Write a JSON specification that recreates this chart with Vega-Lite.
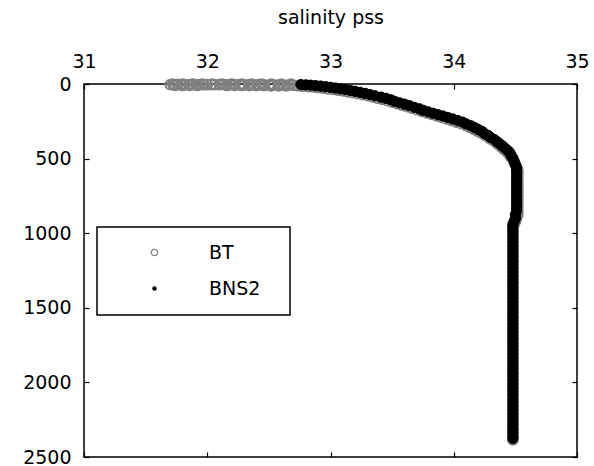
{
  "$schema": "https://vega.github.io/schema/vega-lite/v6.json",
  "width": 493,
  "height": 373,
  "autosize": {"type": "none"},
  "padding": {"left": 84, "top": 84, "right": 17, "bottom": 9},
  "background": "white",
  "config": {
    "view": {"stroke": "black", "strokeWidth": 1.5},
    "font": "DejaVu Sans",
    "axis": {
      "domain": false,
      "grid": false,
      "ticks": true,
      "tickColor": "black",
      "tickSize": -5,
      "tickWidth": 1.2,
      "labelFont": "DejaVu Sans",
      "labelFontSize": 19,
      "labelColor": "black",
      "labelPadding": 18,
      "labelFlush": false,
      "labelOverlap": false,
      "format": "d",
      "titleFont": "DejaVu Sans",
      "titleFontSize": 19,
      "titleFontWeight": "normal",
      "titleColor": "black"
    },
    "legend": {
      "orient": "none",
      "legendX": 13,
      "legendY": 143,
      "padding": 16,
      "strokeColor": "black",
      "strokeWidth": 1.5,
      "fillColor": "white",
      "symbolSize": 40,
      "symbolOffset": 32,
      "symbolStrokeWidth": 1.3,
      "labelOffset": 45,
      "rowPadding": 16,
      "labelFont": "DejaVu Sans",
      "labelFontSize": 19,
      "labelColor": "black",
      "titleOrient": "right",
      "titlePadding": 6,
      "titleOpacity": 0,
      "titleFont": "DejaVu Sans",
      "titleFontSize": 19
    }
  },
  "datasets": {
    "bt": [
      {"k":"BT","s":31.72,"d":0},{"k":"BT","s":31.80,"d":0},{"k":"BT","s":31.88,"d":0},{"k":"BT","s":31.96,"d":0},{"k":"BT","s":32.04,"d":0},{"k":"BT","s":32.12,"d":0},{"k":"BT","s":32.20,"d":0},{"k":"BT","s":32.28,"d":0},{"k":"BT","s":32.36,"d":0},{"k":"BT","s":32.44,"d":0},{"k":"BT","s":32.52,"d":0},{"k":"BT","s":32.60,"d":0},{"k":"BT","s":32.68,"d":0},
      {"k":"BT","s":31.70,"d":4},{"k":"BT","s":31.73,"d":5},{"k":"BT","s":31.76,"d":3},{"k":"BT","s":31.79,"d":5},{"k":"BT","s":31.82,"d":4},{"k":"BT","s":31.85,"d":6},{"k":"BT","s":31.88,"d":3},{"k":"BT","s":31.91,"d":5},{"k":"BT","s":31.94,"d":4},{"k":"BT","s":31.97,"d":5},{"k":"BT","s":32.00,"d":4},{"k":"BT","s":32.03,"d":5},{"k":"BT","s":32.06,"d":4},{"k":"BT","s":32.10,"d":5},{"k":"BT","s":32.14,"d":4},{"k":"BT","s":32.18,"d":5},{"k":"BT","s":32.22,"d":4},{"k":"BT","s":32.26,"d":5},{"k":"BT","s":32.30,"d":6},{"k":"BT","s":32.34,"d":5},{"k":"BT","s":32.38,"d":6},{"k":"BT","s":32.42,"d":5},{"k":"BT","s":32.46,"d":6},{"k":"BT","s":32.50,"d":7},{"k":"BT","s":32.54,"d":6},{"k":"BT","s":32.58,"d":7},{"k":"BT","s":32.62,"d":8},{"k":"BT","s":32.66,"d":7},{"k":"BT","s":32.70,"d":9},
      {"k":"BT","s":31.74,"d":9},{"k":"BT","s":31.80,"d":10},{"k":"BT","s":31.86,"d":9},{"k":"BT","s":31.92,"d":10},{"k":"BT","s":32.16,"d":10},{"k":"BT","s":32.22,"d":9},{"k":"BT","s":32.28,"d":10},{"k":"BT","s":32.34,"d":11},{"k":"BT","s":32.40,"d":10},{"k":"BT","s":32.46,"d":11},{"k":"BT","s":32.52,"d":12},{"k":"BT","s":32.58,"d":12},{"k":"BT","s":32.64,"d":13},
      {"k":"BT","s":32.74,"d":12},{"k":"BT","s":32.78,"d":15},{"k":"BT","s":32.82,"d":18},{"k":"BT","s":32.86,"d":20},{"k":"BT","s":32.90,"d":24},{"k":"BT","s":32.94,"d":28},{"k":"BT","s":32.98,"d":32},{"k":"BT","s":33.02,"d":36},{"k":"BT","s":33.06,"d":41},{"k":"BT","s":33.10,"d":46},{"k":"BT","s":33.14,"d":52},{"k":"BT","s":33.18,"d":58},{"k":"BT","s":33.22,"d":64},{"k":"BT","s":33.26,"d":71},{"k":"BT","s":33.30,"d":78},{"k":"BT","s":33.34,"d":86},{"k":"BT","s":33.38,"d":94},{"k":"BT","s":33.42,"d":103},{"k":"BT","s":33.46,"d":112},{"k":"BT","s":33.50,"d":121},{"k":"BT","s":33.54,"d":131},{"k":"BT","s":33.58,"d":141},{"k":"BT","s":33.62,"d":151},{"k":"BT","s":33.66,"d":161},{"k":"BT","s":33.70,"d":172},{"k":"BT","s":33.74,"d":183},{"k":"BT","s":33.78,"d":194},{"k":"BT","s":33.82,"d":204},{"k":"BT","s":33.86,"d":214},{"k":"BT","s":33.90,"d":224},{"k":"BT","s":33.94,"d":234},{"k":"BT","s":33.98,"d":244},{"k":"BT","s":34.02,"d":255},{"k":"BT","s":34.06,"d":266},{"k":"BT","s":34.10,"d":278},{"k":"BT","s":34.13,"d":290},{"k":"BT","s":34.16,"d":302},{"k":"BT","s":34.19,"d":315},{"k":"BT","s":34.22,"d":328},{"k":"BT","s":34.25,"d":342},{"k":"BT","s":34.28,"d":356},{"k":"BT","s":34.30,"d":370},{"k":"BT","s":34.33,"d":384},{"k":"BT","s":34.35,"d":398},{"k":"BT","s":34.37,"d":412},{"k":"BT","s":34.39,"d":426},{"k":"BT","s":34.41,"d":440},{"k":"BT","s":34.43,"d":455},{"k":"BT","s":34.45,"d":470},{"k":"BT","s":34.46,"d":485},{"k":"BT","s":34.48,"d":500},{"k":"BT","s":34.49,"d":520},{"k":"BT","s":34.50,"d":540},{"k":"BT","s":34.51,"d":560},{"k":"BT","s":34.52,"d":580},{"k":"BT","s":34.52,"d":600},{"k":"BT","s":34.52,"d":625},{"k":"BT","s":34.52,"d":650},{"k":"BT","s":34.52,"d":675},{"k":"BT","s":34.52,"d":700},{"k":"BT","s":34.52,"d":725},{"k":"BT","s":34.52,"d":750},{"k":"BT","s":34.52,"d":775},{"k":"BT","s":34.52,"d":800},{"k":"BT","s":34.52,"d":825},{"k":"BT","s":34.52,"d":850},{"k":"BT","s":34.52,"d":875},{"k":"BT","s":34.51,"d":900},{"k":"BT","s":34.50,"d":920},{"k":"BT","s":34.49,"d":940},{"k":"BT","s":34.48,"d":960},{"k":"BT","s":34.48,"d":985},
      {"k":"BT","s":34.48,"d":1010},{"k":"BT","s":34.48,"d":1035},{"k":"BT","s":34.48,"d":1060},{"k":"BT","s":34.48,"d":1085},{"k":"BT","s":34.48,"d":1110},{"k":"BT","s":34.48,"d":1135},{"k":"BT","s":34.48,"d":1160},{"k":"BT","s":34.48,"d":1185},{"k":"BT","s":34.48,"d":1210},{"k":"BT","s":34.48,"d":1235},{"k":"BT","s":34.48,"d":1260},{"k":"BT","s":34.48,"d":1285},{"k":"BT","s":34.48,"d":1310},{"k":"BT","s":34.48,"d":1335},{"k":"BT","s":34.48,"d":1360},{"k":"BT","s":34.48,"d":1385},{"k":"BT","s":34.48,"d":1410},{"k":"BT","s":34.48,"d":1435},{"k":"BT","s":34.48,"d":1460},{"k":"BT","s":34.48,"d":1485},{"k":"BT","s":34.48,"d":1510},{"k":"BT","s":34.48,"d":1535},{"k":"BT","s":34.48,"d":1560},{"k":"BT","s":34.48,"d":1585},{"k":"BT","s":34.48,"d":1610},{"k":"BT","s":34.48,"d":1635},{"k":"BT","s":34.48,"d":1660},{"k":"BT","s":34.48,"d":1685},{"k":"BT","s":34.48,"d":1710},{"k":"BT","s":34.48,"d":1735},{"k":"BT","s":34.48,"d":1760},{"k":"BT","s":34.48,"d":1785},{"k":"BT","s":34.48,"d":1810},{"k":"BT","s":34.48,"d":1835},{"k":"BT","s":34.48,"d":1860},{"k":"BT","s":34.48,"d":1885},{"k":"BT","s":34.48,"d":1910},{"k":"BT","s":34.48,"d":1935},{"k":"BT","s":34.48,"d":1960},{"k":"BT","s":34.48,"d":1985},{"k":"BT","s":34.48,"d":2010},{"k":"BT","s":34.48,"d":2035},{"k":"BT","s":34.48,"d":2060},{"k":"BT","s":34.48,"d":2085},{"k":"BT","s":34.48,"d":2110},{"k":"BT","s":34.48,"d":2135},{"k":"BT","s":34.48,"d":2160},{"k":"BT","s":34.48,"d":2185},{"k":"BT","s":34.48,"d":2210},{"k":"BT","s":34.48,"d":2235},{"k":"BT","s":34.48,"d":2260},{"k":"BT","s":34.48,"d":2285},{"k":"BT","s":34.48,"d":2310},{"k":"BT","s":34.48,"d":2335},{"k":"BT","s":34.48,"d":2360},{"k":"BT","s":34.48,"d":2385}
    ],
    "bns2": [
      {"k":"BNS2","s":32.76,"d":4},{"k":"BNS2","s":32.80,"d":6},{"k":"BNS2","s":32.84,"d":8},{"k":"BNS2","s":32.88,"d":11},{"k":"BNS2","s":32.92,"d":14},{"k":"BNS2","s":32.96,"d":18},{"k":"BNS2","s":33.00,"d":22},{"k":"BNS2","s":33.04,"d":27},{"k":"BNS2","s":33.08,"d":32},{"k":"BNS2","s":33.12,"d":37},{"k":"BNS2","s":33.16,"d":43},{"k":"BNS2","s":33.20,"d":49},{"k":"BNS2","s":33.24,"d":56},{"k":"BNS2","s":33.28,"d":63},{"k":"BNS2","s":33.32,"d":71},{"k":"BNS2","s":33.36,"d":79},{"k":"BNS2","s":33.41,"d":88},{"k":"BNS2","s":33.45,"d":96},{"k":"BNS2","s":33.49,"d":106},{"k":"BNS2","s":33.52,"d":116},{"k":"BNS2","s":33.56,"d":126},{"k":"BNS2","s":33.60,"d":135},{"k":"BNS2","s":33.64,"d":145},{"k":"BNS2","s":33.68,"d":156},{"k":"BNS2","s":33.72,"d":166},{"k":"BNS2","s":33.75,"d":176},{"k":"BNS2","s":33.79,"d":186},{"k":"BNS2","s":33.83,"d":196},{"k":"BNS2","s":33.87,"d":205},{"k":"BNS2","s":33.91,"d":214},{"k":"BNS2","s":33.95,"d":224},{"k":"BNS2","s":33.99,"d":234},{"k":"BNS2","s":34.03,"d":244},{"k":"BNS2","s":34.07,"d":255},{"k":"BNS2","s":34.10,"d":267},{"k":"BNS2","s":34.14,"d":280},{"k":"BNS2","s":34.17,"d":292},{"k":"BNS2","s":34.20,"d":305},{"k":"BNS2","s":34.23,"d":318},{"k":"BNS2","s":34.25,"d":332},{"k":"BNS2","s":34.28,"d":345},{"k":"BNS2","s":34.30,"d":359},{"k":"BNS2","s":34.33,"d":372},{"k":"BNS2","s":34.35,"d":386},{"k":"BNS2","s":34.37,"d":399},{"k":"BNS2","s":34.39,"d":412},{"k":"BNS2","s":34.41,"d":426},{"k":"BNS2","s":34.43,"d":440},{"k":"BNS2","s":34.45,"d":455},{"k":"BNS2","s":34.46,"d":470},{"k":"BNS2","s":34.47,"d":485},{"k":"BNS2","s":34.48,"d":500},{"k":"BNS2","s":34.49,"d":520},{"k":"BNS2","s":34.50,"d":540},{"k":"BNS2","s":34.51,"d":560},{"k":"BNS2","s":34.51,"d":580},{"k":"BNS2","s":34.51,"d":600},{"k":"BNS2","s":34.51,"d":625},{"k":"BNS2","s":34.51,"d":650},{"k":"BNS2","s":34.51,"d":675},{"k":"BNS2","s":34.51,"d":700},{"k":"BNS2","s":34.51,"d":725},{"k":"BNS2","s":34.51,"d":750},{"k":"BNS2","s":34.51,"d":775},{"k":"BNS2","s":34.51,"d":800},{"k":"BNS2","s":34.51,"d":825},{"k":"BNS2","s":34.51,"d":850},{"k":"BNS2","s":34.50,"d":875},{"k":"BNS2","s":34.50,"d":900},{"k":"BNS2","s":34.49,"d":920},{"k":"BNS2","s":34.48,"d":940},{"k":"BNS2","s":34.48,"d":960},{"k":"BNS2","s":34.48,"d":985},
      {"k":"BNS2","s":34.48,"d":1010},{"k":"BNS2","s":34.48,"d":1035},{"k":"BNS2","s":34.48,"d":1060},{"k":"BNS2","s":34.48,"d":1085},{"k":"BNS2","s":34.48,"d":1110},{"k":"BNS2","s":34.48,"d":1135},{"k":"BNS2","s":34.48,"d":1160},{"k":"BNS2","s":34.48,"d":1185},{"k":"BNS2","s":34.48,"d":1210},{"k":"BNS2","s":34.48,"d":1235},{"k":"BNS2","s":34.48,"d":1260},{"k":"BNS2","s":34.48,"d":1285},{"k":"BNS2","s":34.48,"d":1310},{"k":"BNS2","s":34.48,"d":1335},{"k":"BNS2","s":34.48,"d":1360},{"k":"BNS2","s":34.48,"d":1385},{"k":"BNS2","s":34.48,"d":1410},{"k":"BNS2","s":34.48,"d":1435},{"k":"BNS2","s":34.48,"d":1460},{"k":"BNS2","s":34.48,"d":1485},{"k":"BNS2","s":34.48,"d":1510},{"k":"BNS2","s":34.48,"d":1535},{"k":"BNS2","s":34.48,"d":1560},{"k":"BNS2","s":34.48,"d":1585},{"k":"BNS2","s":34.48,"d":1610},{"k":"BNS2","s":34.48,"d":1635},{"k":"BNS2","s":34.48,"d":1660},{"k":"BNS2","s":34.48,"d":1685},{"k":"BNS2","s":34.48,"d":1710},{"k":"BNS2","s":34.48,"d":1735},{"k":"BNS2","s":34.48,"d":1760},{"k":"BNS2","s":34.48,"d":1785},{"k":"BNS2","s":34.48,"d":1810},{"k":"BNS2","s":34.48,"d":1835},{"k":"BNS2","s":34.48,"d":1860},{"k":"BNS2","s":34.48,"d":1885},{"k":"BNS2","s":34.48,"d":1910},{"k":"BNS2","s":34.48,"d":1935},{"k":"BNS2","s":34.48,"d":1960},{"k":"BNS2","s":34.48,"d":1985},{"k":"BNS2","s":34.48,"d":2010},{"k":"BNS2","s":34.48,"d":2035},{"k":"BNS2","s":34.48,"d":2060},{"k":"BNS2","s":34.48,"d":2085},{"k":"BNS2","s":34.48,"d":2110},{"k":"BNS2","s":34.48,"d":2135},{"k":"BNS2","s":34.48,"d":2160},{"k":"BNS2","s":34.48,"d":2185},{"k":"BNS2","s":34.48,"d":2210},{"k":"BNS2","s":34.48,"d":2235},{"k":"BNS2","s":34.48,"d":2260},{"k":"BNS2","s":34.48,"d":2285},{"k":"BNS2","s":34.48,"d":2310},{"k":"BNS2","s":34.48,"d":2335},{"k":"BNS2","s":34.48,"d":2360},{"k":"BNS2","s":34.48,"d":2376}
    ]
  },
  "layer": [
    {
      "data": {"name": "bt"},
      "mark": {"type": "point", "size": 95, "strokeWidth": 2, "opacity": 1},
      "encoding": {
        "x": {"field": "s", "type": "quantitative", "scale": {"domain": [31, 35], "nice": false, "zero": false},
              "axis": {"orient": "top", "values": [31, 32, 33, 34, 35], "title": "salinity pss", "titlePadding": 25}},
        "y": {"field": "d", "type": "quantitative", "scale": {"domain": [0, 2500], "reverse": true, "nice": false, "zero": false},
              "axis": {"orient": "left", "values": [0, 500, 1000, 1500, 2000, 2500], "title": null}},
        "stroke": {"field": "k", "type": "nominal", "scale": {"domain": ["BT", "BNS2"], "range": ["#808080", "#000000"]},
                   "legend": {"title": "."}},
        "fill": {"field": "k", "type": "nominal", "scale": {"domain": ["BT", "BNS2"], "range": ["transparent", "#000000"]},
                 "legend": {"title": "."}},
        "shape": {"field": "k", "type": "nominal", "scale": {"domain": ["BT", "BNS2"], "range": ["circle", "M-0.5,0A0.5,0.5 0 1,1 0.5,0A0.5,0.5 0 1,1 -0.5,0Z"]},
                  "legend": {"title": "."}}
      }
    },
    {
      "data": {"name": "bns2"},
      "mark": {"type": "point", "size": 420, "strokeWidth": 1, "opacity": 1},
      "encoding": {
        "x": {"field": "s", "type": "quantitative", "scale": {"domain": [31, 35], "nice": false, "zero": false},
              "axis": {"orient": "bottom", "values": [31, 32, 33, 34, 35], "labels": false, "title": null}},
        "y": {"field": "d", "type": "quantitative", "scale": {"domain": [0, 2500], "reverse": true, "nice": false, "zero": false},
              "axis": {"orient": "right", "values": [0, 500, 1000, 1500, 2000, 2500], "labels": false, "title": null}},
        "stroke": {"field": "k", "type": "nominal", "scale": {"domain": ["BT", "BNS2"], "range": ["#808080", "#000000"]},
                   "legend": {"title": "."}},
        "fill": {"field": "k", "type": "nominal", "scale": {"domain": ["BT", "BNS2"], "range": ["transparent", "#000000"]},
                 "legend": {"title": "."}},
        "shape": {"field": "k", "type": "nominal", "scale": {"domain": ["BT", "BNS2"], "range": ["circle", "M-0.5,0A0.5,0.5 0 1,1 0.5,0A0.5,0.5 0 1,1 -0.5,0Z"]},
                  "legend": {"title": "."}}
      }
    }
  ],
  "resolve": {"axis": {"x": "independent", "y": "independent"}}
}
